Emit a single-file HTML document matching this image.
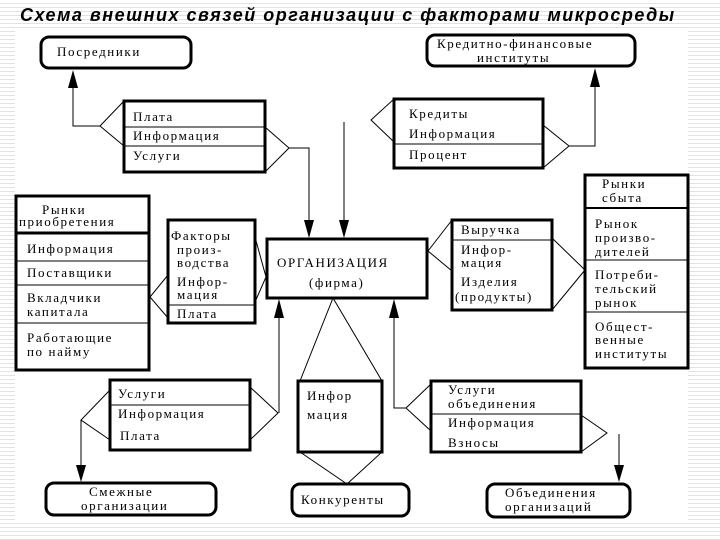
<!DOCTYPE html>
<html><head><meta charset="utf-8"><style>
html,body{margin:0;padding:0;background:#fff}
body{width:720px;height:540px;position:relative;overflow:hidden;
background:repeating-linear-gradient(to bottom,#fff 0,#fff 3px,#e2e2e2 3px,#e2e2e2 4px)}
#main{position:absolute;left:15px;top:28px;width:673px;height:492px;background:#fff}
svg{position:absolute;left:0;top:0}
text{font-family:"Liberation Serif","Noto Serif CJK SC",serif;font-size:13px;letter-spacing:1.6px;fill:#000}
.t{font-family:"Liberation Sans","DejaVu Sans",sans-serif;font-weight:bold;font-style:italic;font-size:18px;letter-spacing:1.5px}
</style></head><body>
<div id="main"></div>
<svg width="720" height="540" viewBox="0 0 720 540">
<text x="20" y="21" class="t">Схема внешних связей организации с факторами микросреды</text>
<g fill="none" stroke="#000" stroke-width="3">
<rect x="41" y="37" width="150" height="31" rx="8"/>
<rect x="427" y="35" width="208" height="31" rx="8"/>
<rect x="124" y="101" width="141" height="71"/>
<rect x="394" y="99" width="149" height="69"/>
<rect x="16" y="196" width="133" height="37"/>
<rect x="16" y="233" width="133" height="137"/>
<rect x="168" y="220" width="87" height="103"/>
<rect x="267" y="239" width="160" height="59"/>
<rect x="452" y="220" width="100" height="90"/>
<rect x="585" y="175" width="103" height="193"/>
<rect x="110" y="380" width="140" height="70"/>
<rect x="298" y="381" width="84" height="71"/>
<rect x="431" y="381" width="150" height="71"/>
<rect x="46" y="483" width="170" height="32" rx="8"/>
<rect x="292" y="484" width="117" height="32" rx="8"/>
<rect x="487" y="484" width="143" height="33" rx="8"/>
<line x1="585" y1="208" x2="688" y2="208" stroke-width="2"/>
</g>
<g fill="none" stroke="#000" stroke-width="1">
<line x1="124" y1="127" x2="265" y2="127"/><line x1="124" y1="146" x2="265" y2="146"/>
<line x1="394" y1="144" x2="543" y2="144"/>
<line x1="16" y1="261" x2="149" y2="261"/><line x1="16" y1="285" x2="149" y2="285"/><line x1="16" y1="323" x2="149" y2="323"/>
<line x1="168" y1="305" x2="255" y2="305"/>
<line x1="452" y1="240" x2="552" y2="240"/>
<line x1="585" y1="260" x2="688" y2="260"/><line x1="585" y1="312" x2="688" y2="312"/>
<line x1="110" y1="405" x2="250" y2="405"/>
<line x1="431" y1="414" x2="581" y2="414"/>
<polyline points="124,101 100,126 124,146"/><polyline points="100,126 73,126 73,80"/>
<polyline points="265,127 289,148 265,172"/><polyline points="289,148 309,148 309,225"/>
<line x1="344" y1="122" x2="344" y2="225"/>
<polyline points="394,99 371,120 394,142"/>
<polyline points="543,125 569,146 543,168"/><polyline points="569,146 595,146 595,80"/>
<polyline points="168,275 150,297 168,318"/>
<polyline points="255,237 266,277 255,302"/>
<polyline points="452,220 428,251 452,271"/>
<polyline points="552,238 585,270 552,310"/>
<polyline points="300,381 333,298 382,381"/>
<polyline points="300,452 347,484 382,452"/>
<polyline points="110,390 81,420 110,440"/><line x1="81" y1="420" x2="81" y2="468"/>
<polyline points="250,387 278,413 250,440"/><line x1="279" y1="413" x2="279" y2="315"/>
<polyline points="431,384 406,408 431,431"/><polyline points="406,408 394,408 394,315"/>
<polyline points="581,415 607,433 581,452"/><line x1="619" y1="434" x2="619" y2="470"/>
</g>
<g fill="#000">
<polygon points="73,70 68,88 78,88"/>
<polygon points="595,68 590,87 600,87"/>
<polygon points="309,238 304,220 314,220"/>
<polygon points="344,238 339,220 349,220"/>
<polygon points="279,299 274,318 284,318"/>
<polygon points="394,299 389,318 399,318"/>
<polygon points="81,482 76,465 86,465"/>
<polygon points="619,482 614,465 624,465"/>
</g>
<text x="57" y="56">Посредники</text>
<text x="437" y="48">Кредитно-финансовые</text>
<text x="477" y="62">институты</text>
<text x="133" y="121">Плата</text><text x="133" y="140">Информация</text><text x="133" y="160">Услуги</text>
<text x="409" y="118">Кредиты</text><text x="409" y="138">Информация</text><text x="409" y="159">Процент</text>
<text x="42" y="214">Рынки</text><text x="19" y="226">приобретения</text>
<text x="27" y="253">Информация</text><text x="27" y="277">Поставщики</text>
<text x="27" y="302">Вкладчики</text><text x="27" y="316">капитала</text>
<text x="27" y="342">Работающие</text><text x="27" y="356">по найму</text>
<text x="171" y="240">Факторы</text><text x="177" y="254">произ-</text><text x="177" y="267">водства</text>
<text x="177" y="286">Инфор-</text><text x="177" y="299">мация</text><text x="177" y="318">Плата</text>
<text x="277" y="267">ОРГАНИЗАЦИЯ</text><text x="309" y="287">(фирма)</text>
<text x="461" y="234">Выручка</text><text x="461" y="254">Инфор-</text><text x="461" y="267">мация</text>
<text x="461" y="286">Изделия</text><text x="455" y="301">(продукты)</text>
<text x="602" y="188">Рынки</text><text x="602" y="202">сбыта</text>
<text x="595" y="228">Рынок</text><text x="595" y="242">произво-</text><text x="595" y="256">дителей</text>
<text x="595" y="279">Потреби-</text><text x="595" y="293">тельский</text><text x="595" y="307">рынок</text>
<text x="595" y="331">Общест-</text><text x="595" y="344">венные</text><text x="595" y="358">институты</text>
<text x="118" y="398">Услуги</text><text x="118" y="418">Информация</text><text x="120" y="440">Плата</text>
<text x="307" y="400">Инфор</text><text x="307" y="419">мация</text>
<text x="448" y="394">Услуги</text><text x="448" y="408">объединения</text>
<text x="448" y="427">Информация</text><text x="448" y="447">Взносы</text>
<text x="89" y="496">Смежные</text><text x="81" y="510">организации</text>
<text x="301" y="504">Конкуренты</text>
<text x="505" y="497">Объединения</text><text x="505" y="511">организаций</text>
</svg>
</body></html>
